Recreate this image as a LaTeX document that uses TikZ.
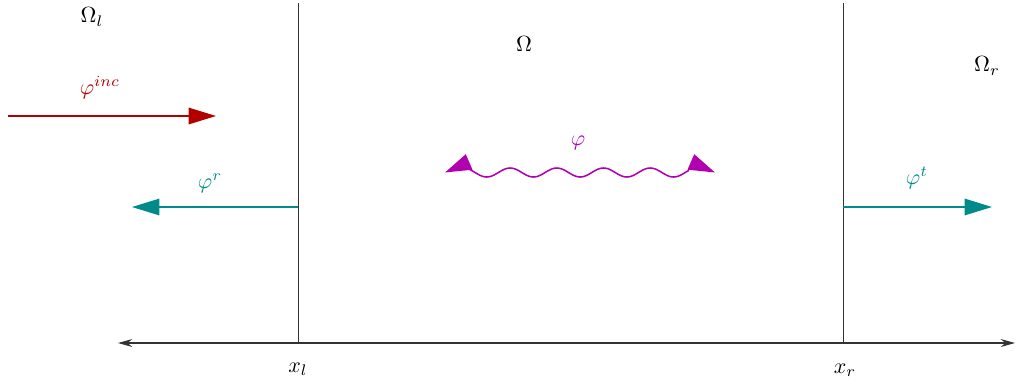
\documentclass[tikz,border=0pt]{standalone}
\usetikzlibrary{positioning,arrows.meta}
\definecolor{scinc}{RGB}{178,0,0}
\definecolor{scout}{RGB}{0,138,138}
\definecolor{scwave}{RGB}{176,0,176}
\tikzset{
  scwall/.style={draw=black!80, line width=0.45pt},
  scaxis/.style={{Stealth[length=6.5pt,width=3.6pt]}-{Stealth[length=6.5pt,width=3.6pt]}, draw=black!80, line width=0.5pt},
  scarr/.style={-{Triangle[length=12.5pt,width=7.5pt]}, line width=0.8pt, draw=#1},
  scwav/.style={line width=0.7pt, draw=scwave},
  scwtip/.style={-{Triangle[length=12pt,width=7.5pt]}, line width=0.7pt, draw=scwave},
  sclbl/.style={text=#1, inner sep=1pt},
}
\begin{document}
\begin{tikzpicture}[x=0.016cm, y=-0.016cm]
  \useasboundingbox (0,0) rectangle (1016,385);

  % walls and axis
  \coordinate (wlt) at (298,3);
  \coordinate (wlb) at (298,343);
  \coordinate (wrt) at (843,3);
  \coordinate (wrb) at (843,343);
  \coordinate (axl) at (118,343);
  \coordinate (axr) at (1015,343);
  \draw[scwall] (wlt) -- (wlb);
  \draw[scwall] (wrt) -- (wrb);
  \draw[scaxis] (axl) -- (axr);
  \node (xl) at (298,369) {$x_l$};
  \node (xr) at (845,370) {$x_r$};

  % regions
  \node (oml) at (92,17) {$\Omega_l$};
  \node (om) at (524,44) {$\Omega$};
  \node (omr) at (987,66) {$\Omega_r$};

  % waves
  \coordinate (incs) at (8,116);
  \coordinate (ince) at (216,116);
  \draw[scarr=scinc] (incs) -- (ince);
  \node[sclbl=scinc] (linc) at (100,88) {$\varphi^{inc}$};

  \coordinate (refs) at (298,207);
  \coordinate (refe) at (132,207);
  \draw[scarr=scout] (refs) -- (refe);
  \node[sclbl=scout] (lref) at (210,183) {$\varphi^{r}$};

  \coordinate (trs) at (843,207);
  \coordinate (tre) at (992,207);
  \draw[scarr=scout] (trs) -- (tre);
  \node[sclbl=scout] (ltr) at (917,178) {$\varphi^{t}$};

  % inner wave, tips slanted like the wave ends
  \coordinate (wvl) at (445,172.5);
  \coordinate (wvlb) at (469,162);
  \coordinate (wvr) at (715,172.5);
  \coordinate (wvrb) at (691,162);
  \draw[scwav] plot[domain=470:689, samples=160, smooth] (\x, {172.5 - 4.5*cos(7.709*(\x-463.4))});
  \draw[scwtip] (wvlb) -- (wvl);
  \draw[scwtip] (wvrb) -- (wvr);
  \node[sclbl=scwave] (lwv) at (578,143) {$\varphi$};
\end{tikzpicture}
\end{document}
